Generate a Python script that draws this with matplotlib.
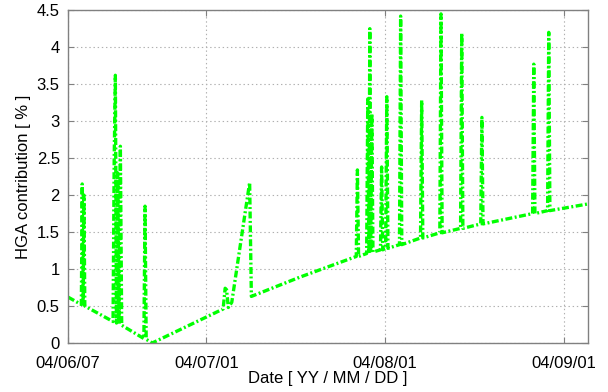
import matplotlib
matplotlib.use("Agg")
import matplotlib.pyplot as plt
import matplotlib.dates as mdates
import numpy as np
from datetime import datetime

# ---- data (days since 2004-06-07, HGA contribution in %) ----
start_date = datetime(2004, 6, 7)
x_end_days = 90.2

# descending part with first spike clusters
days_a = [0.0, 2.3, 2.45, 2.6, 2.75, 2.9,
          7.8, 8.0, 8.2, 8.4, 8.6, 8.85, 9.07, 9.3,
          13.15, 13.35, 13.55, 14.6]
hga_a = [0.62, 0.52, 2.15, 0.51, 2.0, 0.50,
         0.29, 2.5, 3.62, 0.27, 2.3, 0.26, 2.66, 0.24,
         0.06, 1.85, 0.05, 0.0]

# rising part with bump and ramp
days_b = [26.9, 27.25, 27.5, 27.8, 28.4, 31.5, 31.8, 40.2]
hga_b = [0.46, 0.74, 0.72, 0.48, 0.55, 2.17, 0.63, 0.89]

# late spikes on the rising baseline
days_c = [50.0, 50.2, 50.4,
          51.8, 52.0, 52.2, 52.35, 52.5, 52.7, 52.9,
          54.2, 54.4, 54.6, 55.1, 55.3, 55.5,
          57.5, 57.7, 57.9, 61.15, 61.35, 61.55,
          64.5, 64.7, 64.9, 68.1, 68.3, 68.5,
          71.6, 71.8, 72.0, 80.6, 80.8, 81.0,
          83.2, 83.4, 83.6, 90.2]
hga_c = [1.17, 2.34, 1.17,
         1.21, 3.3, 1.21, 4.25, 1.22, 3.1, 1.23,
         1.26, 2.38, 1.26, 1.28, 3.33, 1.28,
         1.33, 4.42, 1.33, 1.42, 3.28, 1.42,
         1.49, 4.45, 1.49, 1.55, 4.19, 1.55,
         1.61, 3.05, 1.61, 1.75, 3.77, 1.75,
         1.79, 4.2, 1.79, 1.88]

tick_dates = [datetime(2004, 6, 7), datetime(2004, 7, 1),
              datetime(2004, 8, 1), datetime(2004, 9, 1)]
y_ticks = [0, 0.5, 1, 1.5, 2, 2.5, 3, 3.5, 4, 4.5]

# ---- plot ----
plt.rcParams['font.family'] = ['Liberation Sans', 'DejaVu Sans']
plt.rcParams['lines.scale_dashes'] = False

fig = plt.figure(figsize=(6.08, 3.92), dpi=100)
ax = fig.add_axes([0.112, 0.125, 0.855, 0.849])

t0 = mdates.date2num(start_date)
days = np.array(days_a + days_b + days_c)
hga = np.array(hga_a + hga_b + hga_c)
ax.plot(t0 + days, hga, color='#00ff00', lw=2.4,
        linestyle=(0, (5.0, 1.8, 1.4, 1.8)), dash_capstyle='butt')

ax.set_xlim(t0, t0 + x_end_days)
ax.set_ylim(0, 4.5)
ax.set_xticks([mdates.date2num(d) for d in tick_dates])
ax.xaxis.set_major_formatter(mdates.DateFormatter('%y/%m/%d'))
ax.set_yticks(y_ticks)
ax.set_yticklabels(['%g' % v for v in y_ticks])

ax.grid(True, linestyle=(0, (1, 2)), color='#b0b0b0', lw=0.8)
ax.tick_params(direction='in', top=True, right=True, length=4,
               labelsize=12, color='#808080')
ax.tick_params(axis='x', pad=9)
ax.tick_params(axis='y', pad=6)
for s in ax.spines.values():
    s.set_color('#808080')
    s.set_linewidth(1.0)

ax.set_xlabel('Date [ YY / MM / DD ]', fontsize=12, labelpad=0)
ax.set_ylabel('HGA contribution [ % ]', fontsize=12, labelpad=4)

fig.savefig('out.png', dpi=100, facecolor='white')
